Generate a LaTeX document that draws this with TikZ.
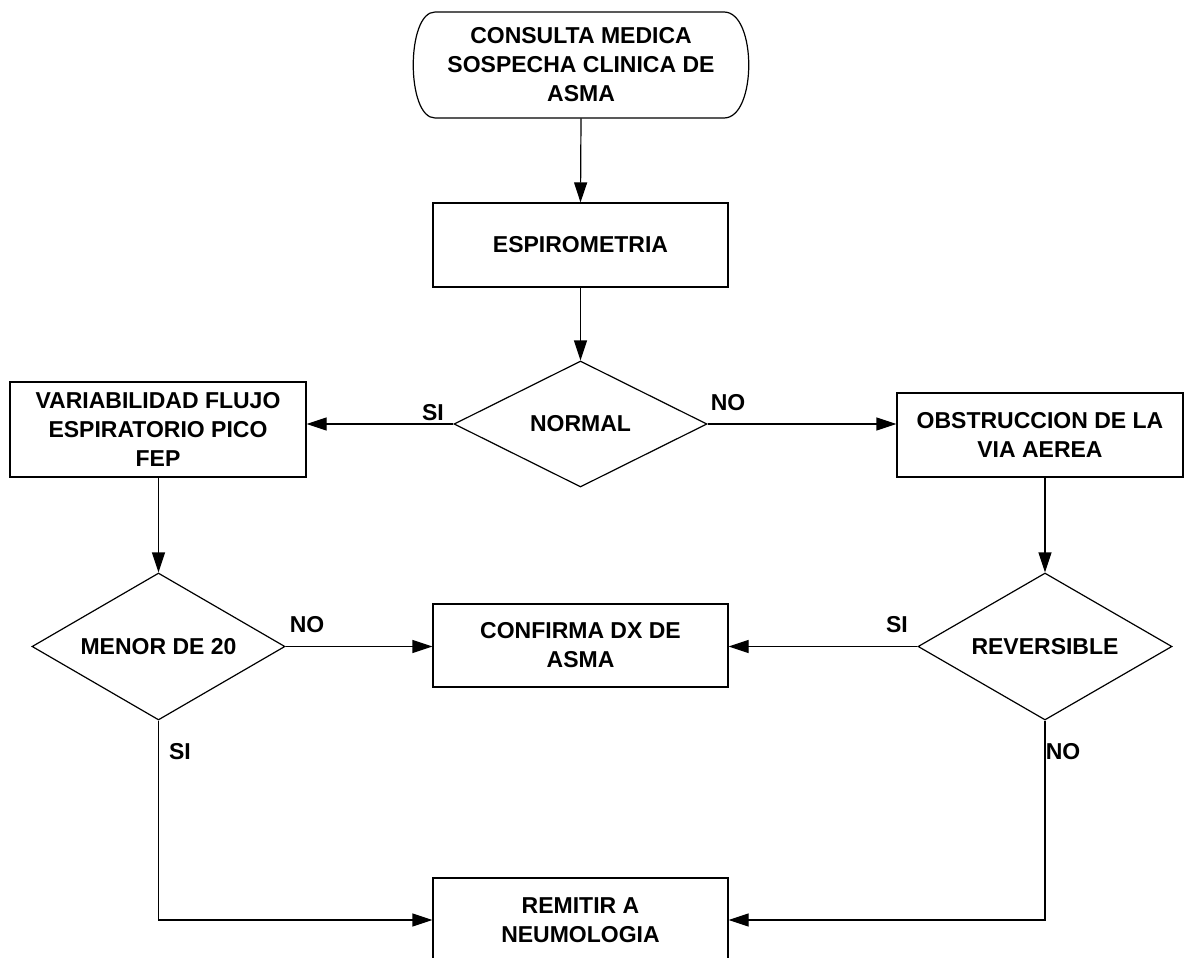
\documentclass[tikz,border=0pt]{standalone}
\usepackage{fontspec}
\setmainfont{Liberation Sans}
\usetikzlibrary{shapes.geometric,arrows.meta}
\begin{document}
\begin{tikzpicture}[x=0.5pt,y=-0.5pt,
  every node/.style={font=\bfseries\fontsize{11.5}{14.5}\selectfont, inner sep=0pt, align=center},
  box/.style={draw, line width=0.6pt, rectangle},
  dec/.style={draw, line width=0.6pt, diamond, aspect=2},
  conn/.style={line width=0.6pt},
  arr/.style={line width=0.6pt, -{Triangle[length=10pt,width=6.5pt]}},
  lbl/.style={}]
\useasboundingbox (0,0) rectangle (1184,958);
\clip (0,0) rectangle (1184,958);
% terminal
\draw[line width=0.6pt] (435,12) -- (724,12) .. controls (757,12) and (757,118) .. (724,118)
  -- (435,118) .. controls (406,118) and (406,12) .. (435,12);
\node (start) [minimum width=168pt, minimum height=53pt] at (581,65) {CONSULTA MEDICA\\SOSPECHA CLINICA DE\\ASMA};
% boxes
\node (esp) [box, minimum width=147.5pt, minimum height=42pt] at (580.5,245) {ESPIROMETRIA};
\node (var) [box, minimum width=148pt, minimum height=47.5pt] at (158,429.5) {VARIABILIDAD FLUJO\\ESPIRATORIO PICO\\FEP};
\node (obs) [box, minimum width=143pt, minimum height=42pt] at (1040,435) {OBSTRUCCION DE LA\\VIA AEREA};
\node (conf) [box, minimum width=147.5pt, minimum height=41.5pt] at (580.5,645.5) {CONFIRMA DX DE\\ASMA};
\node (rem) [box, minimum width=147.5pt, minimum height=42pt] at (580.5,920) {REMITIR A\\NEUMOLOGIA};
% decisions
\node (normal) [dec, minimum width=126.5pt, minimum height=63pt] at (580.5,424) {NORMAL};
\node (menor) [dec, minimum width=126.5pt, minimum height=73.5pt] at (158.5,646.5) {MENOR DE 20};
\node (rev) [dec, minimum width=127pt, minimum height=73.5pt] at (1045,646.5) {REVERSIBLE};
% labels
\node (lsi1) [lbl] at (433,413) {SI};
\node (lno1) [lbl] at (728,403) {NO};
\node (lno2) [lbl] at (307,625) {NO};
\node (lsi2) [lbl] at (897,625) {SI};
\node (lsi3) [lbl] at (180,752) {SI};
\node (lno3) [lbl] at (1063,752) {NO};
% connectors
\draw[arr] (start.south) -- (esp.north);
\draw[arr] (esp.south) -- (normal.north);
\draw[arr] (normal.west) -- (normal.west -| var.east);
\draw[arr] (normal.east) -- (normal.east -| obs.west);
\draw[arr] (var.south -| menor.north) -- (menor.north);
\draw[arr] (obs.south -| rev.north) -- (rev.north);
\draw[arr] (menor.east) -- (menor.east -| conf.west);
\draw[arr] (rev.west) -- (rev.west -| conf.east);
\draw[arr] (menor.south) |- (rem.west);
\draw[arr] (rev.south) |- (rem.east);
\end{tikzpicture}
\end{document}
